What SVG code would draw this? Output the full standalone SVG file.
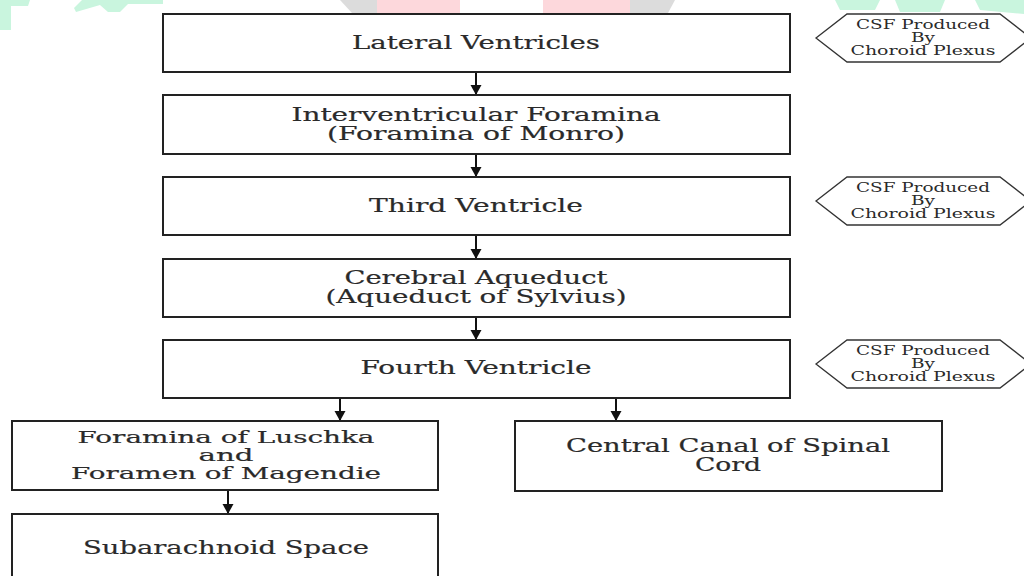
<svg xmlns="http://www.w3.org/2000/svg" width="1024" height="576" viewBox="0 0 1024 576">
<defs>
<style>
.box{fill:#fff;stroke:#222;stroke-width:2}
.hex{fill:#fff;stroke:#333;stroke-width:1.3}
.t{font-family:"DejaVu Serif","Liberation Serif",serif;font-size:18px;fill:#2a2a2a;stroke:#2a2a2a;stroke-width:0.2;text-anchor:middle}
.tt{font-size:16.5px}
.s{font-family:"DejaVu Serif","Liberation Serif",serif;font-size:12px;fill:#2a2a2a;text-anchor:middle}
.c{stroke:#111;stroke-width:2;fill:none;marker-end:url(#ah)}
.g{fill:#c9f5de}
.p{fill:#fdd8dc}
.q{fill:#dcdcdc}
</style>
<marker id="ah" markerWidth="12" markerHeight="12" refX="10" refY="6" orient="auto" markerUnits="userSpaceOnUse">
<path d="M0,0.5 L10,6 L0,11.5 Z" fill="#111"/>
</marker>
</defs>
<rect width="1024" height="576" fill="#fff"/>
<g id="background">
<polygon class="g" points="0,0 30,0 28,6 11,6 11,30 0,30"/>
<polygon class="g" points="82,0 163,0 163,4 128,4 120,12 108,12 100,5 76,12 74,8"/>
<polygon class="q" points="340,0 377,0 377,13 352,13"/>
<polygon class="p" points="377,0 460,0 460,13 377,13"/>
<polygon class="p" points="543,0 630,0 630,13 543,13"/>
<polygon class="q" points="630,0 675,0 668,13 630,13"/>
<polygon class="g" points="835,0 880,0 875,10 840,10"/>
<polygon class="g" points="895,0 945,0 940,12 900,12"/>
<polygon class="g" points="975,0 1024,0 1024,14 980,10"/>
</g>
<g id="connectors">
<line class="c" x1="476" y1="72" x2="476" y2="95"/>
<line class="c" x1="476" y1="154" x2="476" y2="177"/>
<line class="c" x1="476" y1="235" x2="476" y2="259"/>
<line class="c" x1="476" y1="317" x2="476" y2="340"/>
<line class="c" x1="340" y1="398" x2="340" y2="421"/>
<line class="c" x1="616" y1="398" x2="616" y2="421"/>
<line class="c" x1="228" y1="490" x2="228" y2="514"/>
</g>
<g id="lateral-ventricles">
<rect class="box" x="163" y="14" width="627" height="58"/>
<text class="t" x="476" y="49" textLength="248" lengthAdjust="spacingAndGlyphs">Lateral Ventricles</text>
</g>
<g id="interventricular-foramina">
<rect class="box" x="163" y="95" width="627" height="59"/>
<text class="t" x="476" y="121" textLength="369" lengthAdjust="spacingAndGlyphs">Interventricular Foramina</text>
<text class="t" x="476" y="140" textLength="298" lengthAdjust="spacingAndGlyphs">(Foramina of Monro)</text>
</g>
<g id="third-ventricle">
<rect class="box" x="163" y="177" width="627" height="58"/>
<text class="t" x="476" y="212" textLength="214" lengthAdjust="spacingAndGlyphs">Third Ventricle</text>
</g>
<g id="cerebral-aqueduct">
<rect class="box" x="163" y="259" width="627" height="58"/>
<text class="t" x="476" y="284" textLength="263" lengthAdjust="spacingAndGlyphs">Cerebral Aqueduct</text>
<text class="t" x="476" y="303" textLength="301" lengthAdjust="spacingAndGlyphs">(Aqueduct of Sylvius)</text>
</g>
<g id="fourth-ventricle">
<rect class="box" x="163" y="340" width="627" height="58"/>
<text class="t" x="476" y="374" textLength="231" lengthAdjust="spacingAndGlyphs">Fourth Ventricle</text>
</g>
<g id="foramina-luschka-magendie">
<rect class="box" x="12" y="421" width="426" height="69"/>
<text class="t tt" x="226" y="443" textLength="297" lengthAdjust="spacingAndGlyphs">Foramina of Luschka</text>
<text class="t tt" x="226" y="461" textLength="55" lengthAdjust="spacingAndGlyphs">and</text>
<text class="t tt" x="226" y="479" textLength="310" lengthAdjust="spacingAndGlyphs">Foramen of Magendie</text>
</g>
<g id="central-canal">
<rect class="box" x="515" y="421" width="427" height="70"/>
<text class="t" x="728" y="452" textLength="324" lengthAdjust="spacingAndGlyphs">Central Canal of Spinal</text>
<text class="t" x="728" y="471" textLength="66" lengthAdjust="spacingAndGlyphs">Cord</text>
</g>
<g id="subarachnoid-space">
<rect class="box" x="12" y="514" width="426" height="70"/>
<text class="t" x="226" y="554" textLength="286" lengthAdjust="spacingAndGlyphs">Subarachnoid Space</text>
</g>
<g id="csf-note-1">
<polygon class="hex" points="816,38 847,14 1000,14 1031,38 1000,62 847,62"/>
<text class="s" x="923" y="29" textLength="134" lengthAdjust="spacingAndGlyphs">CSF Produced</text>
<text class="s" x="923" y="42" textLength="24" lengthAdjust="spacingAndGlyphs">By</text>
<text class="s" x="923" y="55" textLength="145" lengthAdjust="spacingAndGlyphs">Choroid Plexus</text>
</g>
<g id="csf-note-2">
<polygon class="hex" points="816,201 847,177 1000,177 1031,201 1000,225 847,225"/>
<text class="s" x="923" y="192" textLength="134" lengthAdjust="spacingAndGlyphs">CSF Produced</text>
<text class="s" x="923" y="205" textLength="24" lengthAdjust="spacingAndGlyphs">By</text>
<text class="s" x="923" y="218" textLength="145" lengthAdjust="spacingAndGlyphs">Choroid Plexus</text>
</g>
<g id="csf-note-3">
<polygon class="hex" points="816,364 847,340 1000,340 1031,364 1000,388 847,388"/>
<text class="s" x="923" y="355" textLength="134" lengthAdjust="spacingAndGlyphs">CSF Produced</text>
<text class="s" x="923" y="368" textLength="24" lengthAdjust="spacingAndGlyphs">By</text>
<text class="s" x="923" y="381" textLength="145" lengthAdjust="spacingAndGlyphs">Choroid Plexus</text>
</g>
</svg>
